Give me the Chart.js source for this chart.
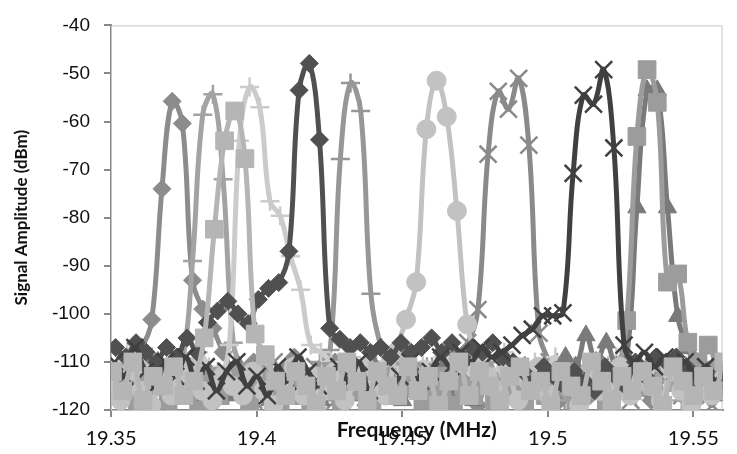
<!DOCTYPE html>
<html>
<head>
<meta charset="utf-8">
<script src="https://cdn.jsdelivr.net/npm/chart.js@4/dist/chart.umd.min.js"></script>
<style>
  html, body { margin: 0; padding: 0; background: #fff; }
  #wrap { width: 737px; height: 454px; }
</style>
</head>
<body>
<div id="wrap"><canvas id="spectrum"></canvas></div>
<script>
// sweep frequencies (MHz), shared by every trace
const freq = [19.35, 19.3535, 19.357, 19.3605, 19.364, 19.3675, 19.371, 19.3745, 19.378, 19.3815,
  19.385, 19.3885, 19.392, 19.3955, 19.399, 19.4025, 19.406, 19.4095, 19.413, 19.4165,
  19.42, 19.4235, 19.427, 19.4305, 19.434, 19.4375, 19.441, 19.4445, 19.448, 19.4515,
  19.455, 19.4585, 19.462, 19.4655, 19.469, 19.4725, 19.476, 19.4795, 19.483, 19.4865,
  19.49, 19.4935, 19.497, 19.5005, 19.504, 19.5075, 19.511, 19.5145, 19.518, 19.5215,
  19.525, 19.5285, 19.532, 19.5355, 19.539, 19.5425, 19.546, 19.5495, 19.553, 19.5565, 19.56];

// start offset of each trace against the shared grid (MHz)
const traceShift = [0, 0, 0.0005, 0.0021, 0.0016, 0.00175, -0.0002, 0, 0.0012, 0.0021, 0.0021];

// signal amplitude (dBm) of each trace
const ch1 = [-111, -114, -109, -107, -101.2, -74, -55.8, -60.4, -93, -99,
  -103, -108, -112, -115, -110, -113, -117, -112, -109, -115,
  -118, -113, -110, -116, -114, -119, -112, -115, -117, -111,
  -114, -118, -113, -116, -110, -115, -119, -112, -114, -117,
  -113, -116, -111, -115, -118, -112, -114, -117, -110, -113,
  -116, -112, -115, -118, -113, -111, -116, -114, -117, -112, -115];
const ch2 = [-113, -110, -115, -112, -109, -114, -111, -110, -89, -58.6,
  -54.3, -72, -106, -112, -115, -111, -117, -113, -110, -116,
  -112, -114, -118, -111, -113, -116, -110, -115, -112, -117,
  -114, -111, -116, -113, -118, -112, -115, -110, -114, -117,
  -112, -116, -113, -111, -115, -118, -112, -114, -110, -116,
  -113, -117, -111, -115, -112, -114, -118, -113, -110, -116, -112];
const ch3 = [-112, -116, -110, -118, -113, -115, -111, -117, -114, -105,
  -82.4, -64, -57.8, -67.7, -104.2, -108.5, -114, -117, -112, -115,
  -119, -113, -116, -110, -114, -118, -112, -115, -117, -111,
  -116, -113, -119, -114, -110, -117, -112, -115, -118, -113,
  -111, -116, -114, -119, -112, -115, -117, -110, -114, -118,
  -113, -116, -112, -115, -119, -111, -114, -117, -113, -116, -110];
const ch4 = [-110, -108, -112, -109, -111, -114, -110, -112, -108, -111,
  -113, -106.5, -64, -52.8, -57, -76.6, -79.6, -88, -95, -106.5,
  -108, -110, -113, -109, -112, -115, -110, -113, -111, -114,
  -110, -113, -109, -112, -114, -110, -111, -113, -108, -112,
  -114, -110, -112, -109, -113, -111, -115, -110, -112, -109,
  -113, -111, -114, -110, -112, -109, -113, -111, -115, -110, -112];
const ch5 = [-107, -109, -106, -108, -110, -107, -109, -105, -108, -101.8,
  -99.4, -97.4, -100, -102, -97, -94.7, -93.5, -87, -53.5, -47.9,
  -63.8, -103, -105.3, -107, -106, -108, -107, -109, -106, -108,
  -107, -105, -108, -106, -109, -107, -108, -106, -109, -110,
  -112, -114, -111, -113, -115, -112, -114, -116, -111, -113,
  -115, -110, -113, -109, -110, -109, -111, -114, -112, -115, -113];
const ch6 = [-114, -111, -116, -112, -115, -118, -113, -110, -116, -114,
  -112, -117, -113, -115, -111, -118, -114, -112, -116, -113,
  -110, -107.5, -67.8, -52, -57.8, -95.8, -107, -112, -115, -113,
  -117, -111, -114, -116, -112, -118, -113, -115, -110, -114,
  -117, -112, -115, -113, -118, -111, -114, -116, -112, -115,
  -113, -117, -111, -114, -116, -112, -115, -118, -113, -111, -114];
const ch7 = [-115, -118, -112, -116, -119, -113, -117, -114, -111, -116,
  -118, -113, -115, -117, -112, -116, -119, -114, -111, -117,
  -113, -116, -112, -118, -114, -111, -115, -117, -108, -101.2,
  -93.4, -61.6, -51.5, -59, -78.6, -102.2, -109, -113, -116, -112,
  -118, -114, -111, -117, -113, -115, -119, -112, -116, -114,
  -111, -117, -113, -115, -118, -112, -116, -119, -114, -117, -113];
const ch8 = [-113, -116, -110, -114, -118, -112, -115, -111, -117, -114,
  -120, -116, -112, -115, -118, -113, -110, -116, -114, -117,
  -111, -115, -118, -113, -116, -112, -114, -117, -110, -115,
  -113, -118, -112, -109, -108, -106, -99.1, -66.8, -53.7, -57.4,
  -51, -64.9, -104, -110, -115, -112, -117, -114, -111, -116,
  -113, -118, -112, -115, -110, -114, -117, -113, -116, -119, -114];
const ch9 = [-110, -113, -107, -112, -115, -110, -113, -109, -114, -111,
  -116, -112, -110, -115, -113, -117, -111, -114, -109, -112,
  -115, -113, -111, -114, -110, -116, -112, -115, -113, -110,
  -114, -112, -109, -111, -108, -110, -107, -109, -108, -106.5,
  -104.5, -103.2, -100.4, -100.4, -99.8, -70.8, -54.5, -56.4, -49.2, -65.5,
  -106.5, -110, -108, -111, -109, -112, -110, -113, -111, -114, -112];
const ch10 = [-117, -113, -119, -115, -112, -118, -114, -116, -120, -113,
  -117, -115, -112, -119, -114, -116, -118, -113, -117, -120,
  -115, -112, -118, -114, -116, -119, -113, -117, -115, -112,
  -118, -116, -113, -119, -115, -117, -112, -118, -114, -116,
  -119, -113, -117, -115, -112, -118, -116, -114, -119, -113,
  -101.4, -63.1, -49.2, -56, -93.4, -91.7, -105.9, -110, -106.5, -112, -114];
const ch11 = [-116, -112, -118, -114, -110, -117, -113, -115, -119, -112,
  -114, -117, -111, -116, -113, -118, -115, -112, -116, -114,
  -118, -112, -115, -117, -113, -110, -116, -114, -118, -112,
  -115, -117, -111, -116, -114, -118, -112, -115, -113, -117,
  -111, -114, -116, -112, -109, -111, -104.5, -110, -106, -111,
  -109, -77.9, -53.5, -53.5, -77.9, -100.5, -107.2, -112, -115, -117, -113];

const xTicks = [19.35, 19.4, 19.45, 19.5, 19.55];
const yTicks = [-120, -110, -100, -90, -80, -70, -60, -50, -40];

function trace(vals, shift){
    return freq.map((f, i) => ({x: +(f + shift).toFixed(5), y: vals[i]}));
}

// drawing order: first item ends up on top
const traces = [
    {vals: ch3, shift: traceShift[2], color: '#b5b5b5', style: 'rect', r: 12.5},
    {vals: ch9, shift: traceShift[8], color: '#404040', style: 'crossRot', r: 12},
    {vals: ch5, shift: traceShift[4], color: '#505050', style: 'rectRot', r: 9},
    {vals: ch7, shift: traceShift[6], color: '#c2c2c2', style: 'circle', r: 9.5},
    {vals: ch10, shift: traceShift[9], color: '#9c9c9c', style: 'rect', r: 12.5},
    {vals: ch11, shift: traceShift[10], color: '#7a7a7a', style: 'triangle', r: 10.5},
    {vals: ch4, shift: traceShift[3], color: '#cbcbcb', style: 'cross', r: 9.5},
    {vals: ch2, shift: traceShift[1], color: '#a3a3a3', style: 'cross', r: 9.5},
    {vals: ch1, shift: traceShift[0], color: '#8c8c8c', style: 'rectRot', r: 9},
    {vals: ch6, shift: traceShift[5], color: '#979797', style: 'cross', r: 9.5},
    {vals: ch8, shift: traceShift[7], color: '#8a8a8a', style: 'crossRot', r: 12},
];

const plotBorder = {
    id: 'plotBorder',
    beforeDatasetsDraw(chart){
        const {ctx, chartArea} = chart;
        ctx.save();
        ctx.strokeStyle = '#c4c4c4';
        ctx.lineWidth = 1;
        ctx.strokeRect(chartArea.left + 0.5, chartArea.top + 0.5, chartArea.right - chartArea.left - 1, chartArea.bottom - chartArea.top);
        ctx.restore();
    }
};

let chart = document.querySelector("#spectrum");
new Chart(chart, {
    type: 'line',
    data: {
        datasets: traces.map((t, i) => ({
            label: 'trace ' + (i + 1),
            data: trace(t.vals, t.shift),
            borderColor: t.color,
            backgroundColor: t.color,
            borderWidth: 5,
            tension: 0.4,
            pointStyle: t.style,
            pointRadius: t.r,
            pointHoverRadius: t.r,
            pointBorderWidth: (t.style === 'cross' || t.style === 'crossRot') ? 2.5 : 1,
            pointBorderColor: t.color,
            pointBackgroundColor: t.color,
            fill: false
        }))
    },
    plugins: [plotBorder],
    options: {
        responsive: true,
        maintainAspectRatio: false,
        animation: false,
        events: [],
        layout: {padding: {top: 14, right: 1, left: 0, bottom: 0}},
        plugins: {legend: {display: false}, tooltip: {enabled: false}},
        scales: {
            x: {
                type: 'linear',
                min: 19.35,
                max: 19.56,
                afterBuildTicks: (s) => { s.ticks = xTicks.map(v => ({value: v})); },
                afterFit: (s) => { s.height = 44; },
                border: {color: '#888888', width: 2},
                grid: {drawOnChartArea: false, color: '#888888', tickLength: 7, lineWidth: 2},
                ticks: {
                    color: '#111',
                    padding: 10,
                    maxRotation: 0,
                    font: {family: 'Lato', size: 20},
                    callback: (v) => String(v)
                },
                title: {
                    display: true,
                    text: 'Frequency (MHz)',
                    color: '#111',
                    font: {family: 'Lato', size: 21, weight: 'bold'},
                    padding: {top: 0, bottom: 11}
                }
            },
            y: {
                min: -120,
                max: -40,
                afterBuildTicks: (s) => { s.ticks = yTicks.map(v => ({value: v})); },
                afterFit: (s) => { s.width = 111; },
                border: {color: '#888888', width: 2},
                grid: {drawOnChartArea: false, color: '#888888', tickLength: 7, lineWidth: 2},
                ticks: {
                    color: '#111',
                    padding: 14,
                    font: {family: 'Liberation Sans', size: 19}
                },
                title: {
                    display: true,
                    text: 'Signal Amplitude (dBm)',
                    color: '#111',
                    font: {family: 'Lato', size: 17, weight: 'bold'},
                    padding: {top: 11, bottom: 0}
                }
            }
        }
    }
});
</script>
</body>
</html>
